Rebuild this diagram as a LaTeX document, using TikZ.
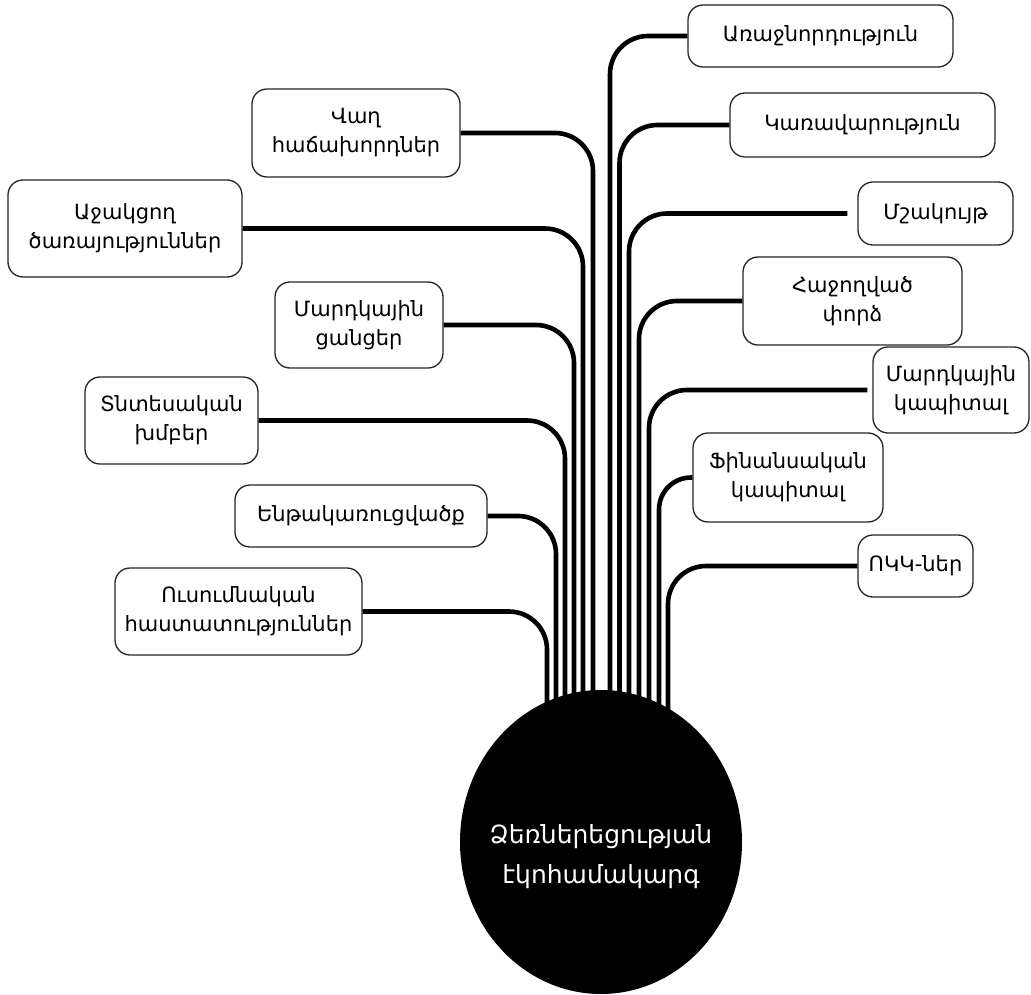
\documentclass[tikz,border=0pt]{standalone}
\usepackage{fontspec}
\setmainfont{DejaVu Sans}
\usetikzlibrary{shapes.geometric}
\begin{document}
\begin{tikzpicture}[x=1pt,y=-1pt,
  box/.style={draw=black!85, line width=1.3pt, rounded corners=15pt, fill=white,
    align=center, inner sep=0pt, font=\fontsize{21}{29}\selectfont},
  conn/.style={line width=4.6pt, rounded corners=38pt},
  hub/.style={ellipse, fill=black, inner sep=0pt, minimum width=282pt, minimum height=304pt},
  hubtext/.style={text=white, align=center, font=\fontsize{25}{40}\selectfont}]
\useasboundingbox (0,0) rectangle (1031,995);
% right boxes
\node[box, minimum width=265pt, minimum height=62pt] (araj) at (820.5,36) {Առաջնորդություն};
\node[box, minimum width=265pt, minimum height=64pt] (karav) at (862.5,125) {Կառավարություն};
\node[box, minimum width=155pt, minimum height=63pt] (mshak) at (935.5,213.5) {Մշակույթ};
\node[box, minimum width=219pt, minimum height=88pt] (hajogh) at (852.5,301) {Հաջողված\\փորձ};
\node[box, minimum width=156pt, minimum height=86pt] (mkap) at (951,390) {Մարդկային\\կապիտալ};
\node[box, minimum width=190pt, minimum height=89pt] (finans) at (788,477.5) {Ֆինանսական\\կապիտալ};
\node[box, minimum width=115pt, minimum height=62pt] (okk) at (915.5,566) {ՈԿԿ-ներ};
% left boxes
\node[box, minimum width=208pt, minimum height=88pt] (vagh) at (356,133) {Վաղ\\հաճախորդներ};
\node[box, minimum width=234pt, minimum height=97pt] (ajak) at (125,228.5) {Աջակցող\\ծառայություններ};
\node[box, minimum width=168pt, minimum height=86pt] (tsant) at (359,325) {Մարդկային\\ցանցեր};
\node[box, minimum width=173pt, minimum height=87pt] (tntes) at (171.5,420.5) {Տնտեսական\\խմբեր};
\node[box, minimum width=252pt, minimum height=62pt] (enth) at (361,516) {Ենթակառուցվածք};
\node[box, minimum width=247pt, minimum height=87pt] (ousumn) at (238.5,611.5) {Ուսումնական\\հաստատություններ};
% connector ends inside the hub
\coordinate (eVagh) at (593,740);
\coordinate (eAjak) at (583,740);
\coordinate (eTsant) at (574,740);
\coordinate (eTntes) at (565,740);
\coordinate (eEnth) at (556,740);
\coordinate (eOusumn) at (547,740);
\coordinate (eAraj) at (610,740);
\coordinate (eKarav) at (619.5,740);
\coordinate (eMshak) at (629,740);
\coordinate (eHajogh) at (639,740);
\coordinate (eMkap) at (649,740);
\coordinate (eFinans) at (659,740);
\coordinate (eOkk) at (668,740);
% connectors
\draw[conn] (vagh.east) -| (eVagh);
\draw[conn] (ajak.east) -| (eAjak);
\draw[conn] (tsant.east) -| (eTsant);
\draw[conn] (tntes.east) -| (eTntes);
\draw[conn] (enth.east) -| (eEnth);
\draw[conn] (ousumn.east) -| (eOusumn);
\draw[conn] (araj.west) -| (eAraj);
\draw[conn] (karav.west) -| (eKarav);
\draw[conn, shorten <=10pt] (mshak.west) -| (eMshak);
\draw[conn] (hajogh.west) -| (eHajogh);
\draw[conn, shorten <=5pt] (mkap.west) -| (eMkap);
\draw[conn, rounded corners=32pt] (finans.west) -| (eFinans);
\draw[conn] (okk.west) -| (eOkk);
% hub
\node[hub] (eco) at (601,842) {};
\node[hubtext] (ecotext) at (601,857) {Ձեռներեցության\\էկոհամակարգ};
\end{tikzpicture}
\end{document}
